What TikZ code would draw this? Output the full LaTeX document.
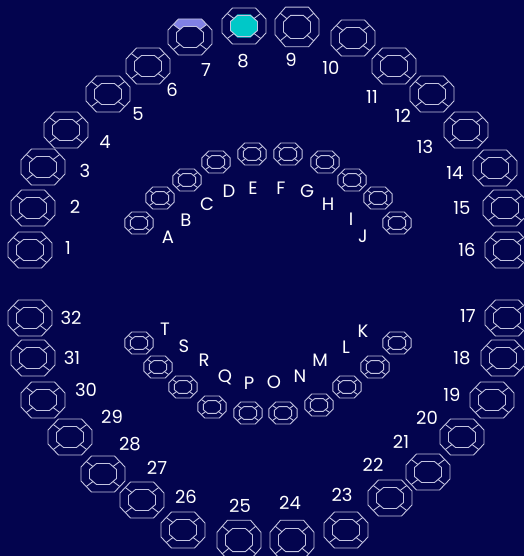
\documentclass[tikz,border=0pt]{standalone}
\usepackage{fontspec}
\setmainfont{Poppins}
\definecolor{chart_bg}{RGB}{3,4,78}
\definecolor{tooth_line}{RGB}{196,196,224}
\definecolor{tooth_core}{RGB}{0,200,200}
\definecolor{tooth_band}{RGB}{128,128,228}
\tikzset{
tooth_outline/.style={draw=tooth_line, line width=0.9pt, line join=round},
tooth_label/.style={text=white, font=\fontsize{18}{20}\selectfont, inner sep=0pt},
primary/.style={xscale=0.64, yscale=0.61},
incisor/.style={yscale=1.1},
tooth/.pic={
  \path[tooth_outline] (-11.5,-18) -- (11.5,-18) -- (22,-7) -- (22,7) -- (11.5,18) -- (-11.5,18) -- (-22,7) -- (-22,-7) -- cycle;
  \path[tooth_outline] (-6.5,-10.5) -- (6.5,-10.5) -- (13.5,-4.5) -- (13.5,4.5) -- (6.5,10.5) -- (-6.5,10.5) -- (-13.5,4.5) -- (-13.5,-4.5) -- cycle;
  \path[tooth_outline] (-16.75,-12.5) -- (-10,-7.5) (16.75,-12.5) -- (10,-7.5)
    (-16.75,12.5) -- (-10,7.5) (16.75,12.5) -- (10,7.5);
},
top_filled/.pic={
  \fill[tooth_band] (-11.5,-18) -- (11.5,-18) -- (16.75,-12.5) -- (10,-7.5) -- (6.5,-10.5) -- (-6.5,-10.5) -- (-10,-7.5) -- (-16.75,-12.5) -- cycle;
  \pic {tooth};
},
core_filled/.pic={
  \fill[tooth_core] (-6.5,-10.5) -- (6.5,-10.5) -- (13.5,-4.5) -- (13.5,4.5) -- (6.5,10.5) -- (-6.5,10.5) -- (-13.5,4.5) -- (-13.5,-4.5) -- cycle;
  \pic {tooth};
}
}

\begin{document}
\begin{tikzpicture}[x=1pt, y=-1pt]
    \fill[chart_bg] (0,0) rectangle (524,556);
    \useasboundingbox (0,0) rectangle (524,556);
    % permanent teeth
    \foreach \n/\x/\y/\lx/\ly in {1/30/250/68/248, 2/33/208/75/207, 3/43/167/85/171, 4/66/130/105/142,
        5/108/94/138/114, 6/148/66/172/90, 10/353/38/331/68, 11/394/66/372/97,
        12/432/94/403/116, 13/466/130/425/147, 14/495/168/455/173, 15/505/208/462/208, 16/507/250/467/250,
        17/507/318/468/316, 18/503/358/462/358, 19/492/400/452/395, 20/462/437/427/418,
        21/428/472/401/442, 22/390/498/373/465, 23/346/530/342/495, 26/183/530/186/497,
        27/142/500/157/468, 28/103/474/130/444, 29/70/437/112/417, 30/43/400/86/390,
        31/33/358/72/358, 32/30/318/71/318} {
        \pic (tooth_\n) at (\x,\y) {tooth};
        \node[tooth_label] (label_\n) at (\lx,\ly) {\n};
    }
    \pic (tooth_7) at (190,37) {top_filled};
    \node[tooth_label] (label_7) at (206,70) {7};
    \pic[incisor] (tooth_8) at (244,26) {core_filled};
    \node[tooth_label] (label_8) at (243,61) {8};
    \pic[incisor] (tooth_9) at (297,27) {tooth};
    \node[tooth_label] (label_9) at (291,60) {9};
    \pic[incisor] (tooth_24) at (292,540) {tooth};
    \node[tooth_label] (label_24) at (290,503) {24};
    \pic[incisor] (tooth_25) at (239,540) {tooth};
    \node[tooth_label] (label_25) at (240,506) {25};
    % primary teeth
    \foreach \n/\x/\y/\lx/\ly in {A/139/223/168/237, B/160/198/186/220, C/187/180/207/204, D/216/162/229/191,
        E/252/154/253/188, F/288/154/281/188, G/325/162/307/191, H/352/180/328/204,
        I/378/198/351/219, J/397/223/363/236, K/397/343/363/331, L/375/367/346/347,
        M/347/387/320/360, N/319/405/300/376, O/283/413/274/382, P/248/413/249/383,
        Q/212/407/225/377, R/183/387/204/360, S/158/367/184/346, T/139/343/165/329} {
        \pic[primary] (tooth_\n) at (\x,\y) {tooth};
        \node[tooth_label] (label_\n) at (\lx,\ly) {\n};
    }
\end{tikzpicture}
\end{document}
